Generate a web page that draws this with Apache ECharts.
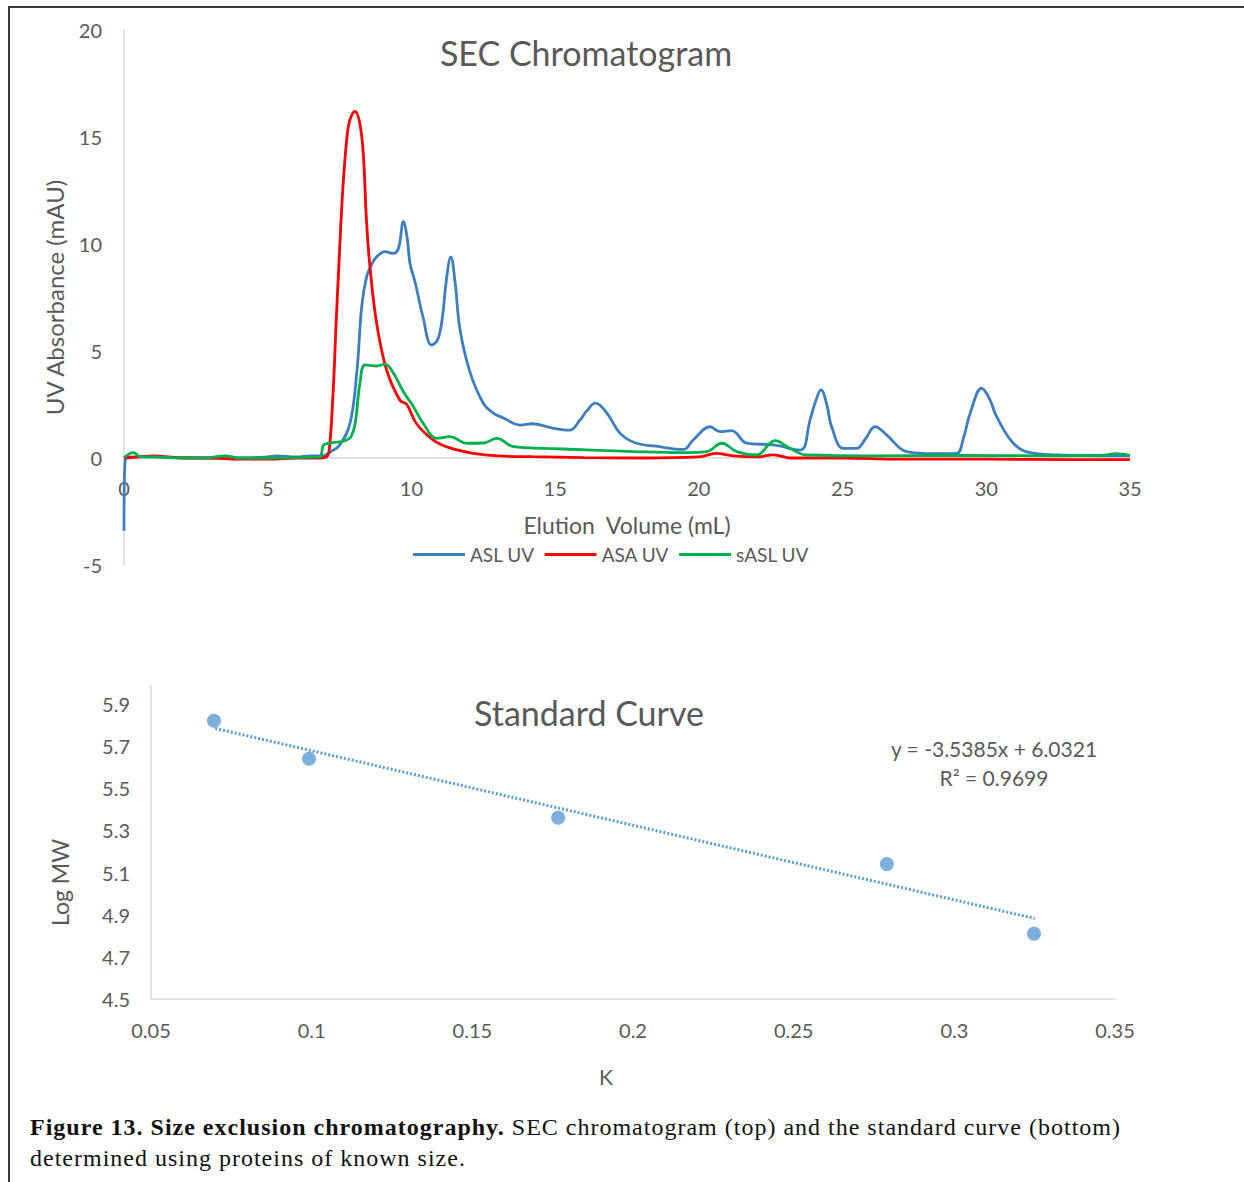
<!DOCTYPE html>
<html>
<head>
<meta charset="utf-8">
<script src="https://cdn.jsdelivr.net/npm/echarts@6/dist/echarts.min.js"></script>
<style>
  html, body { margin: 0; padding: 0; background: #fff; }
  #frame { position: absolute; left: 8px; top: 6px; width: 1236px; height: 1176px;
           border-top: 2px solid #3a3a3a; border-left: 2px solid #3a3a3a; }
  #chart { position: absolute; left: 0; top: 0; width: 1244px; height: 1182px; }
  #caption { position: absolute; left: 30px; top: 1112px; width: 1210px;
             font-family: "Liberation Serif", "DejaVu Serif", serif; font-size: 24px;
             letter-spacing: 1px; line-height: 31px; color: #111; }
  #caption b { font-weight: bold; }
</style>
</head>
<body>
<div id="frame"></div>
<div id="chart"></div>
<div id="caption"><b>Figure 13. Size exclusion chromatography.</b> SEC chromatogram (top) and the standard curve (bottom)<br>determined using proteins of known size.</div>
<script>
// SEC chromatogram (mL, mAU)
var aslVol = [0, 0.05, 0.3, 1, 2, 3, 3.5, 4, 5, 5.3, 6, 6.5, 6.9, 7.2, 7.5, 7.86, 8.1, 8.27, 8.44, 8.6,
  8.79, 9.08, 9.37, 9.55, 9.72, 9.85, 9.95, 10.13, 10.4, 10.7, 10.9, 11.05, 11.23, 11.37, 11.52, 11.69,
  12.04, 12.5, 12.85, 13.2, 13.78, 14.2, 14.9, 15.5, 15.87, 16.1, 16.4, 16.8, 17.26, 17.8, 18.5, 19.46,
  19.8, 20.39, 20.74, 21.14, 21.67, 22.6, 23.52, 23.87, 24.05, 24.25, 24.45, 24.62, 25.03, 25.49, 25.8,
  26.13, 26.54, 27.23, 28.2, 28.97, 29.2, 29.44, 29.84, 30.1, 30.36, 30.94, 31.52, 32.5, 34, 35];
var aslUV = [-3.4, 0, 0.05, 0.05, 0.02, 0, 0.08, 0, 0.05, 0.1, 0.05, 0.1, 0.1, 0.3, 0.6, 1.6, 4.0, 7.07, 8.47, 9.0,
  9.4, 9.64, 9.56, 9.8, 11.04, 10.3, 9.1, 8.2, 6.6, 5.28, 5.5, 6.3, 8.47, 9.4, 8.2, 6.0,
  4.0, 2.56, 2.1, 1.87, 1.54, 1.6, 1.4, 1.3, 1.78, 2.2, 2.56, 2.1, 1.15, 0.7, 0.55, 0.4,
  0.84, 1.46, 1.23, 1.28, 0.69, 0.61, 0.37, 1.78, 2.6, 3.18, 2.5, 1.46, 0.45, 0.45, 0.9,
  1.46, 1.07, 0.3, 0.2, 0.22, 0.9, 2.09, 3.26, 2.8, 1.93, 0.69, 0.25, 0.15, 0.1, 0.1];

var asaVol = [0, 0.5, 1, 2, 3, 4, 5, 6, 6.8, 7.05, 7.15, 7.28, 7.38, 7.49, 7.61, 7.75, 7.86, 8.04, 8.21,
  8.33, 8.44, 8.56, 8.79, 9.14, 9.6, 9.84, 10.18, 10.76, 11.34, 12.15, 13, 14.2, 16, 18, 20, 20.6,
  21.2, 22, 22.6, 23.2, 25, 27, 30, 33, 35];
var asaUV = [0, 0.05, 0.1, 0, 0, -0.05, -0.05, 0, 0, 0.05, 0.5, 3.2, 6.3, 9.4, 12.5, 14.9, 15.8, 16.2, 15.6,
  14.1, 11.0, 8.9, 6.3, 4.1, 2.7, 2.5, 1.6, 0.84, 0.47, 0.22, 0.1, 0.06, 0.02, 0, 0.05, 0.22,
  0.1, 0.05, 0.15, 0, 0, -0.05, -0.05, -0.08, -0.08];

var saslVol = [0, 0.32, 0.6, 1, 2, 3, 3.5, 4, 5, 6, 6.8, 6.94, 7.17, 7.5, 7.75, 7.9, 8.04, 8.21, 8.39, 8.79,
  9.08, 9.37, 9.72, 10.07, 10.41, 10.88, 11.34, 11.92, 12.5, 12.97, 13.55, 14.7, 16.3, 17.7, 19.5,
  20.27, 20.8, 21.32, 22.0, 22.65, 23.17, 23.75, 26, 29, 32, 34, 34.5, 35];
var saslUV = [0, 0.25, 0.05, 0.05, 0, 0.02, 0.1, 0, 0, 0.02, 0.05, 0.6, 0.7, 0.75, 0.84, 1.0, 1.6, 3.5, 4.35, 4.3,
  4.39, 3.97, 3.1, 2.4, 1.62, 0.92, 1.0, 0.69, 0.7, 0.92, 0.53, 0.45, 0.37, 0.3, 0.25,
  0.3, 0.69, 0.3, 0.14, 0.81, 0.45, 0.14, 0.1, 0.12, 0.1, 0.12, 0.2, 0.12];

// standard curve
var stdK = [0.0696, 0.0992, 0.1767, 0.279, 0.3248];
var stdLogMW = [5.82, 5.64, 5.36, 5.14, 4.81];
var trendK = [0.07, 0.325];
var trendLogMW = [5.784, 4.882];
var trendEq = 'y = -3.5385x + 6.0321';
var trendR2 = 'R² = 0.9699';

var seriesNames = ['ASL UV', 'ASA UV', 'sASL UV'];
var seriesColors = ['#3d7ebf', '#ff0000', '#00b04f'];

function pairs(xs, ys) {
  var out = [];
  for (var i = 0; i < xs.length; i++) out.push([xs[i], ys[i]]);
  return out;
}

var txt = '#595959';
var axisGray = '#d9d9d9';
var font = 'Lato';

var chart = echarts.init(document.getElementById('chart'), null, { renderer: 'svg' });

function trace(i, vol, uv) {
  return {
    name: seriesNames[i], type: 'line', xAxisIndex: 0, yAxisIndex: 0,
    data: pairs(vol, uv), showSymbol: false, symbol: 'none', smooth: 0.4,
    itemStyle: { color: seriesColors[i] }, lineStyle: { color: seriesColors[i], width: 2.8 }
  };
}

var option = {
  animation: false,
  textStyle: { fontFamily: font },
  grid: [
    { left: 124, right: 114, top: 30, height: 535 },   // chromatogram
    { left: 151, right: 129, top: 686, height: 313 }   // standard curve
  ],
  legend: {
    left: 408, top: 540,
    icon: 'rect', itemWidth: 52, itemHeight: 3, itemGap: 10,
    textStyle: { color: txt, fontSize: 19, fontFamily: font },
    data: seriesNames
  },
  xAxis: [{
    // axis sits at y = 0, i.e. 107px above the bottom of the grid
    gridIndex: 0, type: 'value', min: 0, max: 35, interval: 5, offset: -107,
    name: 'Elution  Volume (mL)', nameLocation: 'middle', nameGap: 55,
    nameTextStyle: { color: txt, fontSize: 23 },
    axisLine: { onZero: false, lineStyle: { color: axisGray, width: 1.5 } },
    axisTick: { show: false },
    axisLabel: { color: txt, fontSize: 20, margin: 20 },
    splitLine: { show: false }
  }, {
    gridIndex: 1, type: 'value', min: 0.05, max: 0.35, interval: 0.05,
    name: 'K', nameLocation: 'middle', nameGap: 67,
    nameTextStyle: { color: txt, fontSize: 21, padding: [0, 54, 0, 0] },
    axisLine: { lineStyle: { color: axisGray, width: 1.5 } },
    axisTick: { show: false },
    axisLabel: { color: txt, fontSize: 20, margin: 21, formatter: function (v) { return String(+v.toFixed(2)); } },
    splitLine: { show: false }
  }],
  yAxis: [{
    gridIndex: 0, type: 'value', min: -5, max: 20, interval: 5,
    name: 'UV Absorbance (mAU)', nameLocation: 'middle', nameGap: 58,
    nameTextStyle: { color: txt, fontSize: 24 },
    axisLine: { show: true, lineStyle: { color: axisGray, width: 1.5 } },
    axisTick: { show: false },
    axisLabel: { color: txt, fontSize: 20, margin: 22 },
    splitLine: { show: false }
  }, {
    gridIndex: 1, type: 'value', min: 4.5, max: 5.985, interval: 0.2,
    name: 'Log MW', nameLocation: 'middle', nameGap: 80,
    nameTextStyle: { color: txt, fontSize: 23, padding: [0, 80, 0, 0] },
    axisLine: { show: true, lineStyle: { color: axisGray, width: 1.5 } },
    axisTick: { show: false },
    axisLabel: { color: txt, fontSize: 20, margin: 21, showMaxLabel: false,
                 formatter: function (v) { return v.toFixed(1); } },
    splitLine: { show: false }
  }],
  graphic: [
    { type: 'text', x: 586, y: 52, style: { text: 'SEC Chromatogram', fill: txt, font: '34px ' + font, align: 'center', verticalAlign: 'middle' } },
    { type: 'text', x: 589, y: 712, style: { text: 'Standard Curve', fill: txt, font: '34px ' + font, align: 'center', verticalAlign: 'middle' } },
    { type: 'text', x: 994, y: 748, style: { text: trendEq, fill: txt, font: '21px ' + font, align: 'center', verticalAlign: 'middle' } },
    { type: 'text', x: 994, y: 777, style: { text: trendR2, fill: txt, font: '21px ' + font, align: 'center', verticalAlign: 'middle' } }
  ],
  series: [
    trace(0, aslVol, aslUV),
    trace(1, asaVol, asaUV),
    trace(2, saslVol, saslUV),
    {
      name: 'trend', type: 'line', xAxisIndex: 1, yAxisIndex: 1,
      data: pairs(trendK, trendLogMW), showSymbol: false, symbol: 'none',
      lineStyle: { color: '#5b9bd5', width: 3, type: [2, 2] }
    }, {
      name: 'standards', type: 'scatter', xAxisIndex: 1, yAxisIndex: 1,
      data: pairs(stdK, stdLogMW), symbolSize: 14,
      itemStyle: { color: '#5b9bd5' }
    }
  ]
};

chart.setOption(option);
</script>
</body>
</html>
